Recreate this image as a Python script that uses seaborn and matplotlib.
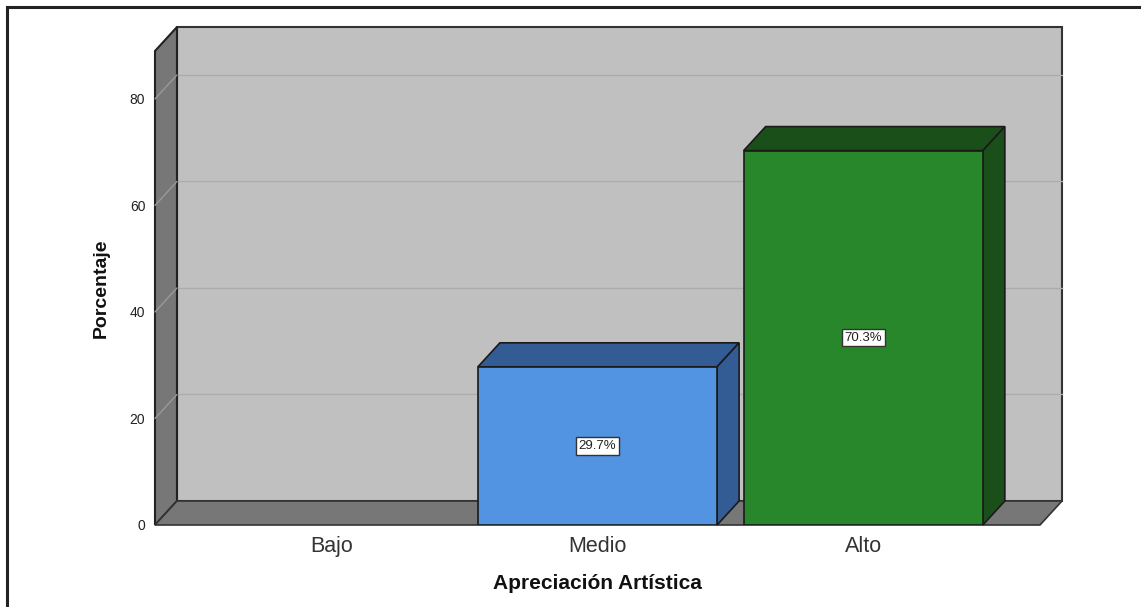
import numpy as np
import pandas as pd
import matplotlib
matplotlib.use("Agg")
import matplotlib.pyplot as plt
from matplotlib.patches import Polygon, Rectangle
import seaborn as sns

categories = ["Bajo", "Medio", "Alto"]
percentages = [0.0, 29.7, 70.3]
front_colors = ["#c0c0c0", "#5294e2", "#28872a"]
shade_colors = ["#808080", "#335c94", "#1b4f1a"]
yticks = [0, 20, 40, 60, 80]

sns.set_style("white")
plt.rcParams["font.family"] = ["Liberation Sans", "DejaVu Sans"]

W, H = 1141, 607
fig = plt.figure(figsize=(W / 100, H / 100), dpi=100)
ax = fig.add_axes([155 / W, 1 - 525 / H, (1040 - 155) / W, (525 - 51) / H])

x0, x1 = -0.665, 2.665
ytop = 89
dx, dy = 22 / 266, 24 / 5.326  # depth offset in data units

df = pd.DataFrame({"cat": categories, "pct": percentages})
sns.barplot(data=df, x="cat", y="pct", hue="cat", palette=front_colors,
            saturation=1, width=0.9, legend=False, ax=ax, edgecolor="#1a1a1a",
            linewidth=1.2, zorder=3)
ax.set_xlim(x0, x1)
ax.set_ylim(0, ytop)

# back wall, side wall, floor
ax.add_patch(Rectangle((x0 + dx, dy), x1 - x0, ytop, facecolor="#c0c0c0",
                       edgecolor="#333333", lw=1.5, zorder=0.5, clip_on=False))
for v in yticks[1:]:
    ax.plot([x0 + dx, x1 + dx], [v + dy, v + dy], color="#acacac", lw=1,
            zorder=0.6, clip_on=False)
ax.add_patch(Polygon([(x0, 0), (x0 + dx, dy), (x0 + dx, ytop + dy), (x0, ytop)],
                     facecolor="#777777", edgecolor="#222222", lw=1.5,
                     zorder=0.7, clip_on=False))
for v in yticks[1:]:
    ax.plot([x0, x0 + dx], [v, v + dy], color="#999999", lw=1,
            zorder=0.8, clip_on=False)
ax.add_patch(Polygon([(x0, 0), (x1, 0), (x1 + dx, dy), (x0 + dx, dy)],
                     facecolor="#777777", edgecolor="#333333", lw=1.2,
                     zorder=0.9, clip_on=False))

# 3D faces and value labels for the bars
for cont, shade, val in zip(ax.containers, shade_colors, percentages):
    for bar in cont:
        if val <= 0:
            bar.set_visible(False)
            continue
        bx, bw, bh = bar.get_x(), bar.get_width(), bar.get_height()
        ax.add_patch(Polygon([(bx, bh), (bx + dx, bh + dy), (bx + bw + dx, bh + dy), (bx + bw, bh)],
                             facecolor=shade, edgecolor="#1a1a1a", lw=1.2,
                             zorder=2.9, clip_on=False))
        ax.add_patch(Polygon([(bx + bw, 0), (bx + bw + dx, dy), (bx + bw + dx, bh + dy), (bx + bw, bh)],
                             facecolor=shade, edgecolor="#1a1a1a", lw=1.2,
                             zorder=2.9, clip_on=False))
        ax.text(bx + bw / 2, bh / 2, f"{val:.1f}%", ha="center", va="center",
                fontsize=9.5, color="#222222", zorder=5,
                bbox=dict(boxstyle="square,pad=0.2", fc="white", ec="#333333", lw=1))

sns.despine(ax=ax, left=True, bottom=True)
ax.set_yticks(yticks)
ax.set_yticklabels([str(t) for t in yticks], fontsize=10, color="#222222")
ax.tick_params(axis="y", length=0, pad=7)
ax.tick_params(axis="x", length=0, pad=8, labelsize=15.5, labelcolor="#333333")
ax.set_xlabel("Apreciación Artística", fontsize=15, fontweight="bold", labelpad=12,
              color="#111111")
ax.set_ylabel("Porcentaje", fontsize=14, fontweight="bold", labelpad=14,
              color="#111111")
ax.patch.set_alpha(0)

# outer frame
fig.add_artist(Rectangle((7 / W, -0.1), 1.2, 1 - 7 / H + 0.1, transform=fig.transFigure,
                         fill=False, edgecolor="#222222", lw=2.2))

fig.savefig("out.png", dpi=100)
